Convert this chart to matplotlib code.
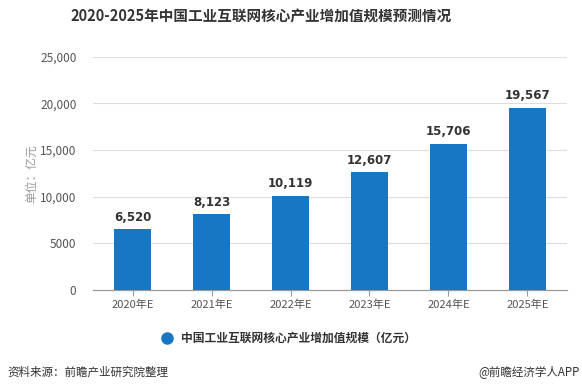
import matplotlib
matplotlib.use("Agg")
import matplotlib.pyplot as plt

plt.rcParams['font.family'] = ['Noto Sans CJK SC', 'DejaVu Sans']

categories = ["2020年E", "2021年E", "2022年E", "2023年E", "2024年E", "2025年E"]
values = [6520, 8123, 10119, 12607, 15706, 19567]
value_labels = ["6,520", "8,123", "10,119", "12,607", "15,706", "19,567"]
yticks = [0, 5000, 10000, 15000, 20000, 25000]
ytick_labels = ["0", "5000", "10,000", "15,000", "20,000", "25,000"]
title = "2020-2025年中国工业互联网核心产业增加值规模预测情况"
series_name = "中国工业互联网核心产业增加值规模（亿元）"
unit_label = "单位：亿元"
source = "资料来源：前瞻产业研究院整理"
credit = "@前瞻经济学人APP"

bar_color = "#1877c4"

fig = plt.figure(figsize=(5.82, 3.92), dpi=100)
ax = fig.add_axes([0.160, 0.260, 0.814, 0.595])

x = list(range(len(categories)))
bars = ax.bar(x, values, width=0.465, color=bar_color, zorder=3)

for xi, v, lab in zip(x, values, value_labels):
    ax.annotate(lab, (xi, v), xytext=(0, 4), textcoords="offset points",
                ha="center", va="bottom", fontsize=8.5, fontweight="bold",
                color="#333333", family="DejaVu Sans")

ax.set_xlim(-0.5, len(categories) - 0.5)
ax.set_ylim(0, 25000)
ax.set_yticks(yticks)
ax.set_yticklabels(ytick_labels, fontsize=8.5, color="#555555")
ax.set_xticks(x)
ax.set_xticklabels(categories, fontsize=8, color="#555555")

ax.yaxis.grid(True, color="#dddddd", linewidth=0.8, zorder=0)
ax.tick_params(axis="y", length=0, pad=12)
ax.tick_params(axis="x", length=4, color="#999999", pad=3)
for s in ["top", "right", "left"]:
    ax.spines[s].set_visible(False)
ax.spines["bottom"].set_color("#999999")
ax.spines["bottom"].set_linewidth(0.9)

ax.set_ylabel(unit_label, fontsize=8.5, color="#999999", labelpad=10)
ax.yaxis.set_label_coords(-0.115, 0.5)

fig.text(0.448, 0.957, title, ha="center", va="center", fontsize=10.5,
         fontweight="bold", color="#333333")

# legend
fig.lines.append(plt.Line2D([167 / 582], [1 - 338 / 392], transform=fig.transFigure,
                            marker="o", markersize=8, color=bar_color, linestyle="none"))
fig.text(181 / 582, 1 - 338 / 392, series_name, ha="left", va="center",
         fontsize=8.5, fontweight="bold", color="#333333")

fig.text(7 / 582, 1 - 372 / 392, source, ha="left", va="center",
         fontsize=8.3, color="#333333")
fig.text(580 / 582, 1 - 372 / 392, credit, ha="right", va="center",
         fontsize=8.3, color="#333333")

fig.savefig("out.png", dpi=100)
